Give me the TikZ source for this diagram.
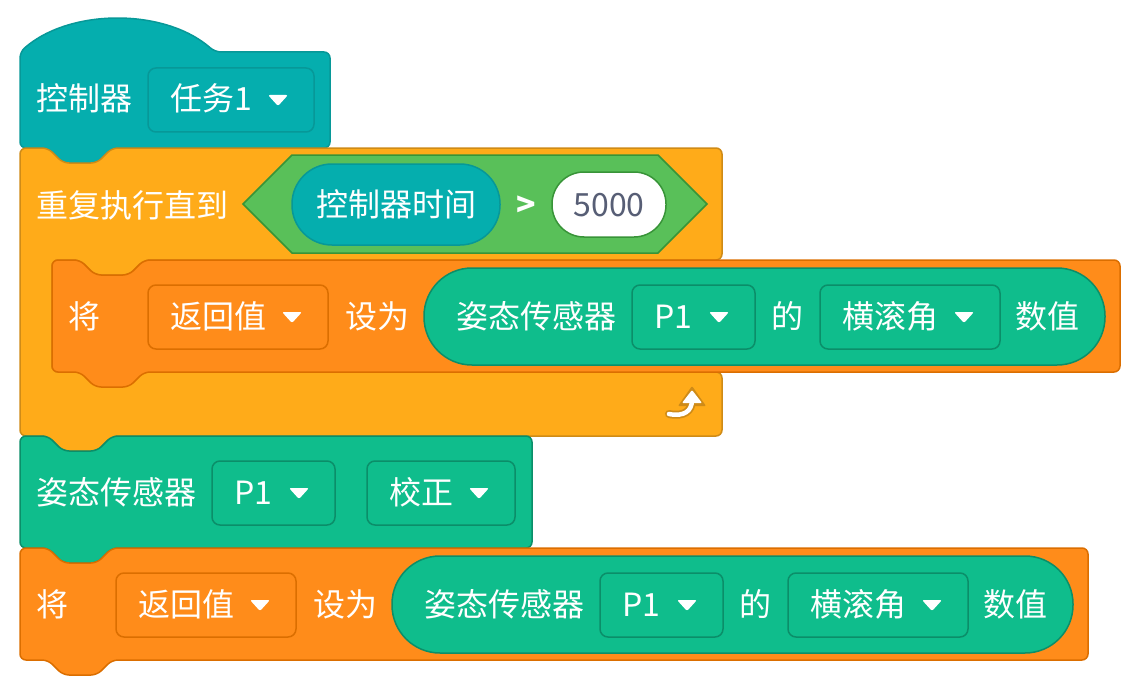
\documentclass[tikz,border=0pt]{standalone}
\usepackage{fontspec}
\newfontfamily\cjk{Noto Sans CJK SC}
\usepackage{tikz}
\usetikzlibrary{arrows.meta,positioning,calc}
\definecolor{blkTeal}{HTML}{05AEAE}
\definecolor{blkTealDark}{HTML}{079898}
\definecolor{blkYellow}{HTML}{FFAB19}
\definecolor{blkYellowDark}{HTML}{CF8B17}
\definecolor{blkOrange}{HTML}{FF8C1A}
\definecolor{blkOrangeDark}{HTML}{DB6E00}
\definecolor{blkGreen}{HTML}{0FBD8C}
\definecolor{blkGreenDark}{HTML}{0B8E69}
\definecolor{blkOp}{HTML}{59C059}
\definecolor{blkOpDark}{HTML}{389438}
\definecolor{blkNum}{HTML}{575E75}

% stack block outline: left, top, right, bottom (notch cut on top, tab below)
\newcommand{\stackpath}[4]{(#1,#2) -- ({#1+28},#2) -- ({#1+43},{#2+15}) -- ({#1+77},{#2+15}) -- ({#1+92},#2) -- (#3,#2) -- (#3,#4) -- ({#1+92},#4) -- ({#1+77},{#4+15}) -- ({#1+43},{#4+15}) -- ({#1+28},#4) -- (#1,#4) -- cycle}
% dropdown field: name, x1, x2, y, text, fill, border
\newcommand{\dropmenu}[7]{%
  \draw[fill=#6,draw=#7,line width=1.5,rounded corners=8] (#2,{#4-32}) rectangle (#3,{#4+32});
  \node[lbl] (#1) at ({#2+22},#4) {#5};
  \fill[white,rounded corners=2] ({#3-46},{#4-5}) -- ({#3-26},{#4-5}) -- ({#3-36},{#4+6}) -- cycle;}

\begin{document}
\begin{tikzpicture}[x=1pt,y=-1pt,
   lbl/.style={text=white,anchor=west,inner sep=0pt,font=\cjk\fontsize{32}{38}\selectfont,
               text height=27pt,text depth=5pt},
   blk/.style={line width=1.5,rounded corners=6}]
  \useasboundingbox (0,0) rectangle (1140,698);

  % hat block
  \draw[blk,fill=blkTeal,draw=blkTealDark] (20,148) -- (20,52) .. controls (70,8) and (165,8) .. (215,52)
     -- (330,52) -- (330,148) -- (112,148) -- (97,163) -- (63,163) -- (48,148) -- cycle;
  \node[lbl] (hat) at (36,100) {控制器};
  \dropmenu{task}{148}{314}{100}{任务1}{blkTeal}{blkTealDark}

  % repeat until
  \draw[blk,fill=blkYellow,draw=blkYellowDark] (20,148) -- (48,148) -- (63,163) -- (97,163) -- (112,148)
     -- (722,148) -- (722,260) -- (144,260) -- (129,275) -- (95,275) -- (80,260) -- (52,260)
     -- (52,372) -- (722,372) -- (722,436) -- (112,436) -- (97,451) -- (63,451) -- (48,436)
     -- (20,436) -- cycle;
  \node[lbl] (rep) at (36,206) {重复执行直到};
  \draw[fill=blkOp,draw=blkOpDark,line width=1.5] (243,204) -- (292,155) -- (658,155) -- (707,204)
     -- (658,253) -- (292,253) -- cycle;
  \draw[fill=blkTeal,draw=blkTealDark,line width=1.5,rounded corners=40] (292,164) rectangle (500,245);
  \node[lbl] (timer) at (316,205) {控制器时间};
  \node[lbl,anchor=center] (gt) at (526,205) {\textbf{>}};
  \draw[fill=white,draw=blkOpDark,line width=1.5,rounded corners=32] (552,172) rectangle (666,237);
  \node[lbl,anchor=center,text=blkNum] (limit) at (609,205) {5000};
  % loop arrow
  \draw[line width=8,draw=blkYellowDark,line cap=round] (669,414) .. controls (684,417) and (692,411) .. (692,400);
  \fill[blkYellowDark,rounded corners=1] (678,406) -- (692,386) -- (706,406) -- cycle;
  \draw[line width=4.5,draw=white,line cap=round] (669,414) .. controls (684,417) and (692,411) .. (692,400);
  \fill[white,rounded corners=1] (682,403) -- (692,390) -- (702,403) -- cycle;

  % set inside loop
  \draw[blk,fill=blkOrange,draw=blkOrangeDark] \stackpath{52}{260}{1120}{372};
  \node[lbl] (set1) at (68,317) {将};
  \dropmenu{var1}{148}{328}{317}{返回值}{blkOrange}{blkOrangeDark}
  \node[lbl] (to1) at (345,317) {设为};
  \draw[fill=blkGreen,draw=blkGreenDark,line width=1.5,rounded corners=48] (424,268) rectangle (1105,365);
  \node[lbl] (imu1) at (456,317) {姿态传感器};
  \dropmenu{port1}{632}{755}{317}{P1}{blkGreen}{blkGreenDark}
  \node[lbl] (of1) at (771,317) {的};
  \dropmenu{axis1}{820}{1000}{317}{横滚角}{blkGreen}{blkGreenDark}
  \node[lbl] (val1) at (1015,317) {数值};

  % calibrate
  \draw[blk,fill=blkGreen,draw=blkGreenDark] \stackpath{20}{436}{532}{548};
  \node[lbl] (imu2) at (36,493) {姿态传感器};
  \dropmenu{port2}{212}{335}{493}{P1}{blkGreen}{blkGreenDark}
  \dropmenu{calib}{367}{515}{493}{校正}{blkGreen}{blkGreenDark}

  % set after loop
  \draw[blk,fill=blkOrange,draw=blkOrangeDark] \stackpath{20}{548}{1088}{660};
  \node[lbl] (set2) at (36,605) {将};
  \dropmenu{var2}{116}{296}{605}{返回值}{blkOrange}{blkOrangeDark}
  \node[lbl] (to2) at (313,605) {设为};
  \draw[fill=blkGreen,draw=blkGreenDark,line width=1.5,rounded corners=48] (392,556) rectangle (1073,653);
  \node[lbl] (imu3) at (424,605) {姿态传感器};
  \dropmenu{port3}{600}{723}{605}{P1}{blkGreen}{blkGreenDark}
  \node[lbl] (of2) at (739,605) {的};
  \dropmenu{axis2}{788}{968}{605}{横滚角}{blkGreen}{blkGreenDark}
  \node[lbl] (val2) at (983,605) {数值};
\end{tikzpicture}
\end{document}
